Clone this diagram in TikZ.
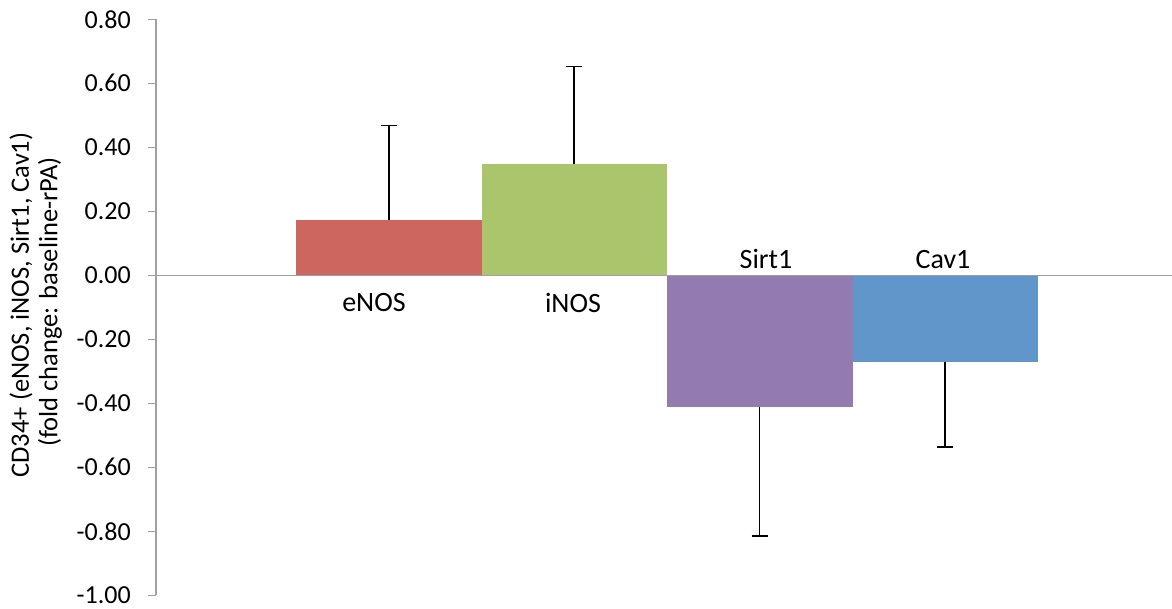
\documentclass[tikz,border=0pt]{standalone}
\usepackage{fontspec}
\setmainfont{Carlito}
\definecolor{cE}{RGB}{205,102,94}
\definecolor{cI}{RGB}{171,197,108}
\definecolor{cS}{RGB}{147,123,176}
\definecolor{cC}{RGB}{96,150,201}
\definecolor{axg}{RGB}{160,160,160}
\begin{document}
\begin{tikzpicture}[x=1pt,y=-1pt,
  axisline/.style={draw=axg,line width=1.3pt},
  errbar/.style={draw=black,line width=1.4pt},
  ticklab/.style={anchor=east,font=\fontsize{26}{30}\selectfont,inner sep=0pt},
  barlab/.style={font=\fontsize{28}{32}\selectfont,inner sep=0pt},
  ylab/.style={font=\fontsize{26.5}{30}\selectfont,rotate=90,inner sep=0pt}]
\useasboundingbox (0,0) rectangle (1172,609);
% bars
\fill[cE] (296,220) rectangle (482,275.3);
\fill[cI] (482,164) rectangle (667,275.3);
\fill[cS] (667,275.3) rectangle (852.5,406.5);
\fill[cC] (852.5,275.3) rectangle (1038,361.5);
% error bars
\coordinate (e0) at (389,220); \coordinate (e1) at (389,125.5);
\coordinate (i0) at (574,164); \coordinate (i1) at (574,66.5);
\coordinate (s0) at (759.7,406.5); \coordinate (s1) at (759.7,536);
\coordinate (c0) at (945,361.5); \coordinate (c1) at (945,447);
\draw[errbar] (e0) -- (e1) ([xshift=-8pt]e1) -- ([xshift=8pt]e1);
\draw[errbar] (i0) -- (i1) ([xshift=-8pt]i1) -- ([xshift=8pt]i1);
\draw[errbar] (s0) -- (s1) ([xshift=-8pt]s1) -- ([xshift=8pt]s1);
\draw[errbar] (c0) -- (c1) ([xshift=-8pt]c1) -- ([xshift=8pt]c1);
% axes
\coordinate (ytop) at (156,19.3);
\coordinate (ybot) at (156,595.3);
\coordinate (z0) at (156,275.3);
\coordinate (z1) at (1172,275.3);
\draw[axisline] (ytop) -- (ybot);
\draw[axisline] (z0) -- (z1);
\foreach \v/\lab [count=\k] in {0.8/0.80,0.6/0.60,0.4/0.40,0.2/0.20,0/0.00,-0.2/-0.20,-0.4/-0.40,-0.6/-0.60,-0.8/-0.80,-1.0/-1.00}{
  \draw[axisline] (148,275.3-320*\v) -- (156,275.3-320*\v);
  \node[ticklab] (t\k) at (131,275.3-320*\v) {\lab};
}
% bar labels
\node[barlab] (lE) at (374,303) {eNOS};
\node[barlab] (lI) at (573,303) {iNOS};
\node[barlab] (lS) at (766,259) {Sirt1};
\node[barlab] (lC) at (943,260) {Cav1};
% y label
\node[ylab] (y1) at (21,305) {CD34+ (eNOS, iNOS, Sirt1, Cav1)};
\node[ylab] (y2) at (50,302) {(fold change: baseline-rPA)};
\end{tikzpicture}
\end{document}
